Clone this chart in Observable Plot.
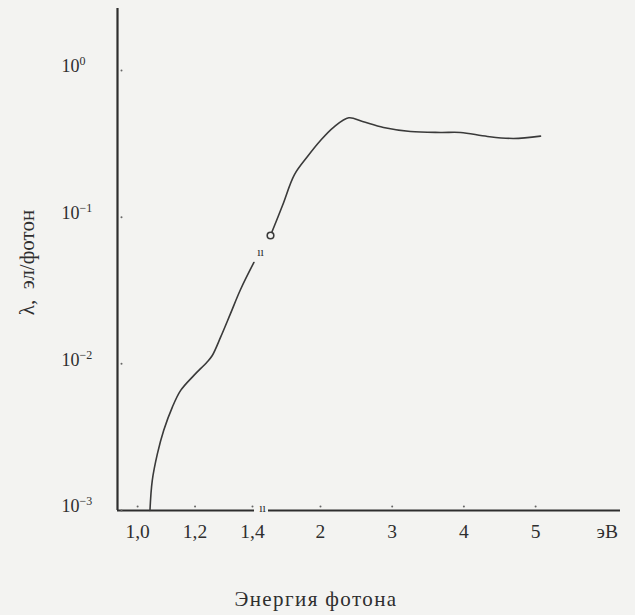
<!DOCTYPE html>
<html>
<head>
<meta charset="utf-8">
<script src="https://cdn.jsdelivr.net/npm/d3@7"></script>
<script src="https://cdn.jsdelivr.net/npm/@observablehq/plot@0.6"></script>
<style>
  html, body { margin: 0; padding: 0; background: #f3f3f1; }
  #wrap { position: relative; width: 635px; height: 615px; overflow: hidden; }
  #wrap svg { position: absolute; left: 0; top: 0; background: transparent; }
  #xtitle { position: absolute; left: 166px; top: 587px; width: 300px; text-align: center;
    font-family: "Liberation Serif", "DejaVu Serif", serif; font-size: 21px; letter-spacing: 1.4px; color: #2e2e2e; }
</style>
</head>
<body>
<div id="wrap"><div id="xtitle">Энергия фотона</div></div>
<script>
// ---- data ----
const yTicks = [1e-3, 1e-2, 1e-1, 1];
const yTickBase = "10";
const yTickExponents = ["−3", "−2", "−1", "0"];
const xTicksLow = [1.0, 1.2, 1.4];
const xTickLabelsLow = ["1,0", "1,2", "1,4"];
const xTicksHigh = [2, 3, 4, 5, 6];
const xTickLabelsHigh = ["2", "3", "4", "5", "эВ"];

// lower branch (left, stretched energy scale)
const lowE      = [1.043, 1.051, 1.069, 1.091, 1.121, 1.150, 1.196, 1.242, 1.260, 1.289, 1.323, 1.358, 1.405];
const lowLambda = [0.001, 0.0016, 0.00244, 0.00352, 0.00507, 0.00659, 0.00834, 0.0103, 0.0114, 0.0152, 0.0219, 0.0320, 0.0491];

// upper branch (right energy scale), starts at the open circle
const highE      = [1.303, 1.470, 1.637, 1.819, 2.0, 2.186, 2.395, 2.586, 2.879, 3.255, 3.674, 3.953, 4.329, 4.692, 5.068];
const highLambda = [0.075, 0.120, 0.195, 0.259, 0.333, 0.411, 0.476, 0.449, 0.409, 0.384, 0.378, 0.378, 0.355, 0.344, 0.357];

// axis extents
const yDomain = [1e-3, 2.646];
const xDomainLow = [0.930, 1.407];
const xDomainHigh = [1.275, 6.184];
const axisBreak = [{x: 1.4348, y: 1e-3}];     // break sign on the x axis
const curveBreak = [{x: 1.428, y: 0.0577}];   // break sign on the curve
const yLabel = "λ,  эл/фотон";

const ink = "#2e2e2e";
const curveInk = "#3a3a3a";
const serif = "Liberation Serif, DejaVu Serif, serif";

const lowData = lowE.map((e, i) => ({e, v: lowLambda[i]}));
const highData = highE.map((e, i) => ({e, v: highLambda[i]}));
const yt = yTicks.map((v, i) => ({v, base: yTickBase, exp: yTickExponents[i]}));
const xtl = xTicksLow.map((e, i) => ({e, label: xTickLabelsLow[i]}));
const xth = xTicksHigh.map((e, i) => ({e, label: xTickLabelsHigh[i]}));

const H = 615;
const common = {
  height: H,
  marginTop: 8,
  marginBottom: 105,
  y: {type: "log", domain: yDomain, axis: null},
  style: {background: "transparent", fontFamily: serif, color: ink}
};

const left = Plot.plot({
  ...common,
  width: 275,
  marginLeft: 117,
  marginRight: 21,
  x: {type: "linear", domain: xDomainLow, axis: null},
  marks: [
    Plot.ruleX([xDomainLow[0]], {stroke: ink, strokeWidth: 2.2}),
    Plot.ruleY([yDomain[0]], {stroke: ink, strokeWidth: 2.2}),
    Plot.line(lowData, {x: "e", y: "v", stroke: curveInk, strokeWidth: 1.6, curve: "catmull-rom"}),
    Plot.dot(yt, {x: () => xDomainLow[0], y: "v", r: 1, fill: "#666", stroke: null, dx: 4}),
    Plot.text(yt, {x: () => xDomainLow[0], y: "v", text: "base", textAnchor: "end", dx: -38, dy: -4,
      fontSize: 18, fontFamily: serif, fill: ink}),
    Plot.text(yt, {x: () => xDomainLow[0], y: "v", text: "exp", textAnchor: "start", dx: -38, dy: -9,
      fontSize: 12, fontFamily: serif, fill: ink}),
    Plot.dot(xtl, {x: "e", y: () => yDomain[0], r: 1, fill: "#666", stroke: null, dy: -4}),
    Plot.text(xtl, {x: "e", y: () => yDomain[0], text: "label", dy: 21, fontSize: 19.5, fontFamily: serif, fill: ink}),
    Plot.text(axisBreak, {x: "x", y: "y", text: () => "ıı", dy: -2, fontSize: 12, fontFamily: serif, fill: ink}),
    Plot.text(curveBreak, {x: "x", y: "y", text: () => "ıı", fontSize: 12, fontFamily: serif, fill: ink}),
    Plot.text([yLabel], {frameAnchor: "left", textAnchor: "middle", dx: -90, dy: 3, rotate: -90, fontSize: 21,
      fontFamily: serif, fill: ink, letterSpacing: 2.6})
  ]
});

const right = Plot.plot({
  ...common,
  width: 635,
  marginLeft: 268,
  marginRight: 15,
  x: {type: "linear", domain: xDomainHigh, axis: null},
  marks: [
    Plot.ruleY([yDomain[0]], {stroke: ink, strokeWidth: 2.2}),
    Plot.line(highData, {x: "e", y: "v", stroke: curveInk, strokeWidth: 1.6, curve: "catmull-rom"}),
    Plot.dot(highData.slice(0, 1), {x: "e", y: "v", r: 3.3, fill: "#f3f3f1", stroke: curveInk, strokeWidth: 1.6}),
    Plot.dot(xth.slice(0, 4), {x: "e", y: () => yDomain[0], r: 1, fill: "#666", stroke: null, dy: -4}),
    Plot.text(xth, {x: "e", y: () => yDomain[0], text: "label", dy: 21, fontSize: 19.5, fontFamily: serif, fill: ink})
  ]
});

const wrap = document.getElementById("wrap");
wrap.appendChild(left);
wrap.appendChild(right);
</script>
</body>
</html>
